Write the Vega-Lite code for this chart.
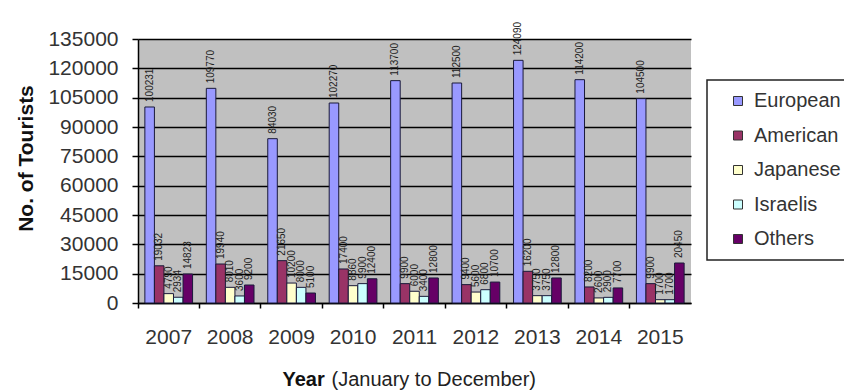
{
  "$schema": "https://vega.github.io/schema/vega-lite/v6.json",
  "autosize": "none",
  "width": 553,
  "height": 264,
  "padding": {"left": 138, "top": 39, "right": 153, "bottom": 87},
  "background": "white",
  "config": {
    "view": {"fill": "#C0C0C0", "stroke": null},
    "font": "Liberation Sans",
    "legend": {"strokeWidth": 1.5}
  },
  "data": {
    "values": [
      {"Year": "2007", "Series": "European", "Tourists": 100231},
      {"Year": "2007", "Series": "American", "Tourists": 19032},
      {"Year": "2007", "Series": "Japanese", "Tourists": 4790},
      {"Year": "2007", "Series": "Israelis", "Tourists": 2934},
      {"Year": "2007", "Series": "Others", "Tourists": 14823},
      {"Year": "2008", "Series": "European", "Tourists": 109770},
      {"Year": "2008", "Series": "American", "Tourists": 19940},
      {"Year": "2008", "Series": "Japanese", "Tourists": 8010},
      {"Year": "2008", "Series": "Israelis", "Tourists": 3600},
      {"Year": "2008", "Series": "Others", "Tourists": 9200},
      {"Year": "2009", "Series": "European", "Tourists": 84030},
      {"Year": "2009", "Series": "American", "Tourists": 21650},
      {"Year": "2009", "Series": "Japanese", "Tourists": 10200},
      {"Year": "2009", "Series": "Israelis", "Tourists": 8000},
      {"Year": "2009", "Series": "Others", "Tourists": 5100},
      {"Year": "2010", "Series": "European", "Tourists": 102270},
      {"Year": "2010", "Series": "American", "Tourists": 17400},
      {"Year": "2010", "Series": "Japanese", "Tourists": 8860},
      {"Year": "2010", "Series": "Israelis", "Tourists": 9900},
      {"Year": "2010", "Series": "Others", "Tourists": 12400},
      {"Year": "2011", "Series": "European", "Tourists": 113700},
      {"Year": "2011", "Series": "American", "Tourists": 9900},
      {"Year": "2011", "Series": "Japanese", "Tourists": 6000},
      {"Year": "2011", "Series": "Israelis", "Tourists": 3400},
      {"Year": "2011", "Series": "Others", "Tourists": 12800},
      {"Year": "2012", "Series": "European", "Tourists": 112500},
      {"Year": "2012", "Series": "American", "Tourists": 9400},
      {"Year": "2012", "Series": "Japanese", "Tourists": 5600},
      {"Year": "2012", "Series": "Israelis", "Tourists": 6800},
      {"Year": "2012", "Series": "Others", "Tourists": 10700},
      {"Year": "2013", "Series": "European", "Tourists": 124090},
      {"Year": "2013", "Series": "American", "Tourists": 16200},
      {"Year": "2013", "Series": "Japanese", "Tourists": 3750},
      {"Year": "2013", "Series": "Israelis", "Tourists": 3750},
      {"Year": "2013", "Series": "Others", "Tourists": 12800},
      {"Year": "2014", "Series": "European", "Tourists": 114200},
      {"Year": "2014", "Series": "American", "Tourists": 8200},
      {"Year": "2014", "Series": "Japanese", "Tourists": 2600},
      {"Year": "2014", "Series": "Israelis", "Tourists": 2900},
      {"Year": "2014", "Series": "Others", "Tourists": 7700},
      {"Year": "2015", "Series": "European", "Tourists": 104500},
      {"Year": "2015", "Series": "American", "Tourists": 9900},
      {"Year": "2015", "Series": "Japanese", "Tourists": 1700},
      {"Year": "2015", "Series": "Israelis", "Tourists": 1700},
      {"Year": "2015", "Series": "Others", "Tourists": 20450}
    ]
  },
  "encoding": {
    "xOffset": {
      "field": "Series", "type": "nominal",
      "sort": ["European", "American", "Japanese", "Israelis", "Others"],
      "scale": {"paddingInner": 0, "paddingOuter": 0.72}
    },
    "y": {
      "field": "Tourists", "type": "quantitative",
      "scale": {"domain": [0, 135000], "nice": false},
      "axis": {
        "values": [0, 15000, 30000, 45000, 60000, 75000, 90000, 105000, 120000, 135000],
        "format": "d",
        "labelOverlap": false, "labelFlush": false,
        "title": "No. of Tourists",
        "titleFontSize": 21, "titleFontWeight": "bold", "titleColor": "#111",
        "titleX": -112, "titleY": 119, "titleAngle": 270, "titleAlign": "center", "titleBaseline": "middle",
        "labelFontSize": 21, "labelColor": "#333", "labelPadding": 14,
        "tickSize": 6, "tickColor": "#000", "tickWidth": 1.5,
        "domainColor": "#000", "domainWidth": 1.5,
        "grid": true, "gridColor": "#000", "gridWidth": 1.6
      }
    }
  },
  "layer": [
    {
      "mark": {"type": "bar", "stroke": "#1a1a3a", "strokeWidth": 1},
      "encoding": {
        "x": {
          "field": "Year", "type": "ordinal",
          "scale": {"paddingInner": 0, "paddingOuter": 0},
          "axis": {
            "orient": "bottom",
            "title": "Year",
            "titleFontSize": 20, "titleFontWeight": "bold", "titleColor": "#111",
            "titleX": 144, "titleY": 82, "titleAlign": "left", "titleBaseline": "alphabetic",
            "labelAngle": 0, "labelFontSize": 21, "labelColor": "#333", "labelPadding": 18,
            "bandPosition": 0, "tickSize": 5, "tickColor": "#000", "tickWidth": 1.5,
            "domainColor": "#000", "domainWidth": 1.5, "grid": false
          }
        },
        "color": {
          "field": "Series", "type": "nominal",
          "scale": {
            "domain": ["European", "American", "Japanese", "Israelis", "Others"],
            "range": ["#9999FF", "#993366", "#FFFFCC", "#CCFFFF", "#660066"]
          },
          "legend": {
            "title": null,
            "orient": "none", "legendX": 569, "legendY": 41,
            "fillColor": "white", "strokeColor": "#222",
            "padding": 11,
            "symbolType": "square", "symbolSize": 81, "symbolOffset": 10,
            "symbolStrokeColor": "#333", "symbolStrokeWidth": 1,
            "labelFontSize": 20, "labelColor": "#333", "labelOffset": 6,
            "rowPadding": 14.5
          }
        }
      }
    },
    {
      "mark": {"type": "text", "angle": 270, "align": "left", "baseline": "middle", "dx": 5, "fontSize": 10, "color": "#222"},
      "encoding": {
        "x": {
          "field": "Year", "type": "ordinal",
          "axis": {
            "orient": "bottom",
            "title": "(January to December)",
            "titleFontSize": 20, "titleFontWeight": "normal", "titleColor": "#222",
            "titleX": 193, "titleY": 82, "titleAlign": "left", "titleBaseline": "alphabetic",
            "labels": false, "ticks": false, "domain": false, "grid": false
          }
        },
        "text": {"field": "Tourists", "type": "quantitative", "format": "d"}
      }
    }
  ],
  "resolve": {"axis": {"x": "independent"}}
}
